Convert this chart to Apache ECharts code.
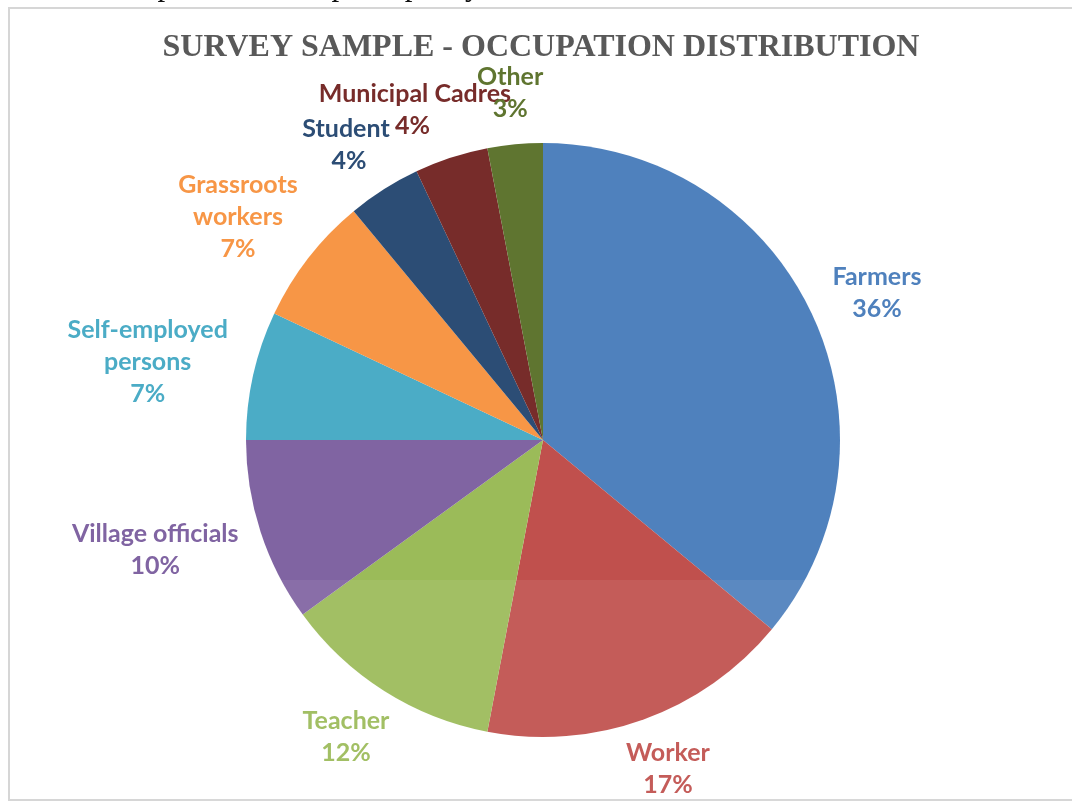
<!DOCTYPE html>
<html>
<head>
<meta charset="utf-8">
<title>Survey Sample - Occupation Distribution</title>
<script src="https://cdn.jsdelivr.net/npm/echarts@6/dist/echarts.min.js"></script>
<style>
  html, body { margin: 0; padding: 0; background: #ffffff; }
  #chart { width: 1072px; height: 805px; }
</style>
</head>
<body>
<div id="chart"></div>
<script>
// Occupation groups of the surveyed sample, clockwise from 12 o'clock
const categories = [
  'Farmers', 'Worker', 'Teacher', 'Village officials', 'Self-employed persons',
  'Grassroots workers', 'Student', 'Municipal Cadres', 'Other'
];
// Share of respondents, in percent
const shares = [36, 17, 12, 10, 7, 7, 4, 4, 3];
// How each category name wraps in its label
const labelLines = [
  ['Farmers'], ['Worker'], ['Teacher'], ['Village officials'], ['Self-employed', 'persons'],
  ['Grassroots', 'workers'], ['Student'], ['Municipal Cadres'], ['Other']
];

const colors = ['#4F81BD', '#C0504D', '#9BBB59', '#8064A2', '#4BACC6',
                '#F79646', '#2C4D75', '#772C2A', '#5F7530'];

// Pie geometry (px)
const CX = 543, CY = 440, R = 297;
// Label anchor: [distance from centre, angular nudge in degrees]
const labelPlace = [
  [365, 1.4], [352, -1.0], [356, 1.2], [403, 2.2], [403, -1.4],
  [378, -1.6], [355, -1.3], [354, -3.2], [349, 0]
];
// Horizontal padding [left, right] applied to the percentage line
const pctPad = [
  [0, 0], [0, 0], [0, 0], [0, 0], [0, 0],
  [0, 0], [6, 0], [0, 5], [0, 0]
];

const total = shares.reduce((a, b) => a + b, 0);
const cumStart = [];
shares.reduce((acc, v, i) => { cumStart[i] = acc; return acc + v; }, 0);

const FONT = 'Lato, "Open Sans", sans-serif';
function richFor(i) {
  const base = { fontFamily: FONT, fontWeight: 'bold', fontSize: 25, lineHeight: 32, align: 'center' };
  return {
    n: Object.assign({}, base),
    p: Object.assign({}, base, { padding: [0, pctPad[i][1], 0, pctPad[i][0]] })
  };
}

const seriesData = categories.map((name, i) => ({
  name: name,
  value: shares[i],
  itemStyle: { color: colors[i] },
  label: { color: colors[i], rich: richFor(i) }
}));

const chart = echarts.init(document.getElementById('chart'), null, { renderer: 'canvas' });

chart.setOption({
  backgroundColor: '#ffffff',
  animation: false,
  graphic: [
    // chart frame
    {
      type: 'rect', z: 0, silent: true,
      shape: { x: 9, y: 8, width: 1100, height: 792 },
      style: { fill: '#ffffff', stroke: '#d6d6d6', lineWidth: 2 }
    },
    // caption of the page above the frame
    {
      type: 'text', z: 1, silent: true, left: 13, top: -29,
      style: {
        text: 'of the Occupation of Sample capacity',
        fontFamily: '"Liberation Serif", "Times New Roman", serif',
        fontSize: 31, fill: '#111111'
      }
    },
    {
      type: 'text', z: 5, silent: true, x: 541, y: 48,
      style: {
        text: 'SURVEY SAMPLE - OCCUPATION DISTRIBUTION',
        fontFamily: '"Liberation Serif", "Times New Roman", serif',
        fontWeight: 'bold', fontSize: 32, fill: '#595959',
        align: 'center', verticalAlign: 'middle'
      }
    },
    // pale seal overlay on the lower part of the page
    {
      type: 'rect', z: 100, silent: true,
      shape: { x: 180, y: 580, width: 720, height: 225 },
      style: { fill: 'rgba(255,255,255,0.07)' }
    }
  ],
  series: [{
    type: 'pie',
    z: 10,
    center: [CX, CY],
    radius: R,
    startAngle: 90,
    clockwise: true,
    avoidLabelOverlap: false,
    itemStyle: { borderWidth: 0 },
    label: {
      show: true,
      position: 'outside',
      formatter: function (p) {
        const i = p.dataIndex;
        return labelLines[i].map(t => '{n|' + t + '}').join('\n') + '\n{p|' + p.value + '%}';
      }
    },
    labelLine: { show: false },
    labelLayout: function (p) {
      const i = p.dataIndex;
      const midDeg = (cumStart[i] + shares[i] / 2) / total * 360 + labelPlace[i][1];
      const a = midDeg * Math.PI / 180;
      const r = labelPlace[i][0];
      return {
        x: CX + r * Math.sin(a),
        y: CY - r * Math.cos(a),
        align: 'center',
        verticalAlign: 'middle'
      };
    },
    emphasis: { disabled: true },
    data: seriesData
  }]
});
</script>
</body>
</html>
